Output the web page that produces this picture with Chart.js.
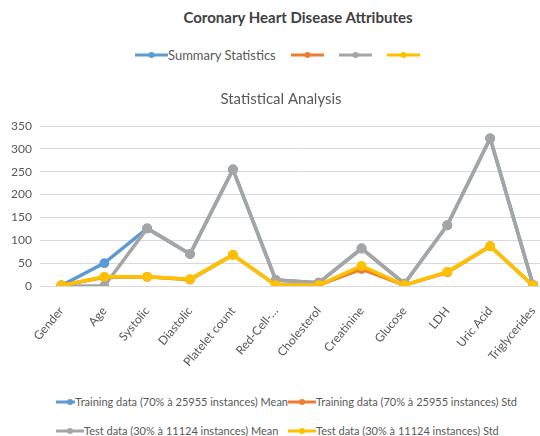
<!DOCTYPE html>
<html>
<head>
<meta charset="utf-8">
<script src="https://cdn.jsdelivr.net/npm/chart.js@4.4.1/dist/chart.umd.min.js"></script>
<style>
  html, body { margin: 0; padding: 0; background: #fff; overflow: hidden; }
  body { width: 540px; height: 436px; position: relative; font-family: Lato, "Liberation Sans", sans-serif; color: #595959; }
  #mainTitle { position: absolute; top: 8px; left: 0; width: 540px; padding-left: 56px; box-sizing: border-box;
    text-align: center; font-weight: bold; font-size: 15px; color: #404040; }
  #topLegend { position: absolute; top: 47px; left: 135px; display: flex; align-items: center; font-size: 13px; white-space: nowrap; }
  #topLegend .item { display: flex; align-items: center; margin-right: 15px; }
  #chartWrap { position: absolute; top: 84px; left: 0; width: 562px; height: 284px; }
  #bottomLegend { position: absolute; top: 395px; left: 56px; display: grid; grid-template-columns: 232px 232px;
    row-gap: 16px; font-size: 11px; white-space: nowrap; }
  #bottomLegend .item { display: flex; align-items: center; }
  svg { display: block; }
</style>
</head>
<body>
<div id="mainTitle">Coronary Heart Disease Attributes</div>
<div id="topLegend"></div>
<div id="chartWrap"><canvas id="chd"></canvas></div>
<div id="bottomLegend"></div>
<script>
const categories = ['Gender','Age','Systolic','Diastolic','Platelet count','Red-Cell-…','Cholesterol','Creatinine','Glucose','LDH','Uric Acid','Triglycerides'];
const trainMean = [1, 50, 126, 70, 255, 13, 7, 82, 5, 133, 323, 2];
const trainStd  = [1, 19, 20, 14, 68, 2, 2, 37, 2, 30, 87, 1];
const testMean  = [0, 0, 126, 70, 255, 13, 7, 82, 5, 133, 323, 2];
const testStd   = [1, 20, 20, 15, 68, 2, 2, 44, 2, 31, 87, 1];
const seriesNames = ['Training data (70% à 25955 instances) Mean','Training data (70% à 25955 instances) Std',
                     'Test data (30% à 11124 instances) Mean','Test data (30% à 11124 instances) Std'];
const topLegendNames = ['Summary Statistics','','',''];
const yTicks = [0, 50, 100, 150, 200, 250, 300, 350];
const colors = ['#5b9bd5','#ed7d31','#a5a5a5','#ffc000'];
const seriesValues = [trainMean, trainStd, testMean, testStd];

function swatch(color, w){
  return '<svg width="'+w+'" height="8"><line x1="0" y1="4" x2="'+w+'" y2="4" stroke="'+color+'" stroke-width="3"/>' +
         '<circle cx="'+(w/2)+'" cy="4" r="3" fill="'+color+'"/></svg>';
}
document.getElementById('topLegend').innerHTML = topLegendNames.map((n,i) =>
  '<div class="item">'+swatch(colors[i], 33)+(n ? '<span>'+n+'</span>' : '')+'</div>').join('');
document.getElementById('bottomLegend').innerHTML = seriesNames.map((n,i) =>
  '<div class="item">'+swatch(colors[i], 28)+'<span>'+n+'</span></div>').join('');

new Chart(document.getElementById('chd'), {
  type: 'line',
  data: {
    labels: categories,
    datasets: seriesNames.map((name, i) => ({
      label: name,
      data: seriesValues[i],
      borderColor: colors[i],
      backgroundColor: colors[i],
      pointBackgroundColor: colors[i],
      pointBorderColor: colors[i],
      borderWidth: 3.5,
      pointRadius: 3.2,
      tension: 0,
      order: 4 - i   // later series drawn on top, as in the original
    }))
  },
  options: {
    responsive: true, maintainAspectRatio: false, animation: false,
    layout: { padding: 0 },
    plugins: {
      legend: { display: false },
      tooltip: { enabled: false },
      title: { display: true, text: 'Statistical Analysis', color: '#595959',
               font: { family: 'Lato', size: 15, weight: 'normal' }, padding: { top: 6, bottom: 18 } }
    },
    scales: {
      y: {
        min: 0, max: 350,
        afterBuildTicks: axis => { axis.ticks = yTicks.map(v => ({ value: v })); },
        afterFit: axis => { axis.width = 40; axis.paddingTop = 0; axis.paddingBottom = 0; },
        ticks: { color: '#595959', font: { family: 'Lato', size: 12 }, padding: 8 },
        grid: { color: '#d9d9d9', lineWidth: 1, drawTicks: false },
        border: { display: false }
      },
      x: {
        offset: true,
        afterFit: axis => { axis.height = 82; axis.paddingLeft = 0; axis.paddingRight = 0; },
        ticks: { color: '#595959', font: { family: 'Lato', size: 12 }, minRotation: 50, maxRotation: 50, autoSkip: false, padding: 10 },
        grid: { display: false },
        border: { display: false }
      }
    }
  }
});
</script>
</body>
</html>
